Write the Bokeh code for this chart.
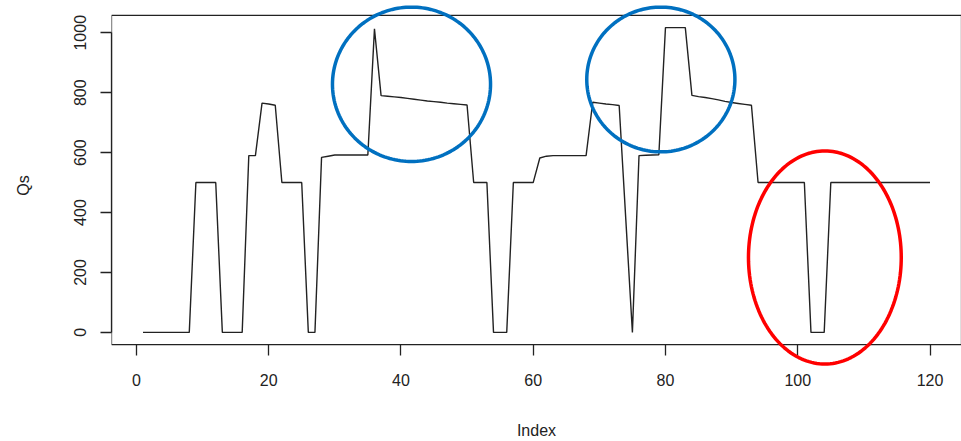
import numpy as np
from bokeh.plotting import figure
from bokeh.models import Range1d, FixedTicker, PolyAnnotation
from bokeh.embed import file_html
from bokeh.resources import INLINE

# Qs series, one value per index 1..120
index = list(range(1, 121))
qs = (
    [0] * 8
    + [500] * 4
    + [0] * 4
    + [590, 590, 765, 762, 758]
    + [500] * 4
    + [0] * 2
    + [584, 588, 592, 592, 592, 592, 592, 592]
    + [1013]
    + [790, 788, 786, 784, 781, 778, 775, 772, 770, 768, 765, 763, 761, 759]
    + [500] * 3
    + [0] * 3
    + [500] * 4
    + [582, 588, 590, 590, 590, 590, 590, 590]
    + [768, 765, 762, 760, 757]
    + [378, 0]
    + [590, 591, 592, 593]
    + [1017] * 4
    + [791, 787, 784, 780, 776, 771, 767, 764, 761, 758]
    + [500] * 8
    + [0] * 3
    + [500] * 16
)

x_ticks = [0, 20, 40, 60, 80, 100, 120]
y_ticks = [0, 200, 400, 600, 800, 1000]

# hand-drawn highlight rings: centre x, centre y, width, height (data units)
ring_cx = [41.6, 79.3, 104.1]
ring_cy = [828, 844, 250]
ring_w = [23.9, 22.4, 23.1]
ring_h = [515, 483, 711]
ring_color = ["#0070C0", "#0070C0", "#FF0000"]

# R-style 4% padding around the data range -> the plot box
xpad = 0.04 * (max(index) - min(index))
ypad = 0.04 * (max(qs) - min(qs))
box_x = (min(index) - xpad, max(index) + xpad)
box_y = (min(qs) - ypad, max(qs) + ypad)

# the drawing frame is a little taller than the box so the rings can
# spill over its top and bottom edges
BOX_PX = 330          # box height in pixels
TOP_EXTRA = 12        # frame above box, px
BOTTOM_EXTRA = 23     # frame below box, px
px_per_unit = BOX_PX / (box_y[1] - box_y[0])
frame_y = (box_y[0] - BOTTOM_EXTRA / px_per_unit, box_y[1] + TOP_EXTRA / px_per_unit)

FONT = "Liberation Sans"
FONT_SIZE = "16px"
INK = "#222222"
TICK_LEN = 11

p = figure(
    width=961, height=441,
    output_backend="svg", toolbar_location=None,
    x_range=Range1d(*box_x),
    y_range=Range1d(*frame_y),
    min_border_left=111, min_border_right=0,
    min_border_top=15 - TOP_EXTRA, min_border_bottom=96 - BOTTOM_EXTRA,
)
p.background_fill_color = "white"
p.border_fill_color = "white"
p.grid.visible = False
p.outline_line_color = None

# the plot box
p.add_layout(PolyAnnotation(
    xs=[box_x[0], box_x[1], box_x[1], box_x[0]],
    ys=[box_y[0], box_y[0], box_y[1], box_y[1]],
    fill_alpha=0, line_color=INK, line_alpha=1, line_width=1.3, level="underlay",
))

p.line(index, qs, line_color=INK, line_width=1.4)

for ax, ticks, lo, hi in ((p.xaxis[0], x_ticks, 0, 120), (p.yaxis[0], y_ticks, 0, 1000)):
    ax.ticker = FixedTicker(ticks=ticks)
    ax.bounds = (lo, hi)
    ax.minor_tick_line_color = None
    ax.major_tick_line_color = INK
    ax.major_tick_line_width = 1.3
    ax.axis_line_color = INK
    ax.axis_line_width = 1.3
    ax.major_label_text_font = FONT
    ax.major_label_text_font_size = FONT_SIZE
    ax.major_label_text_color = "#222222"
    ax.axis_label_text_font = FONT
    ax.axis_label_text_font_size = FONT_SIZE
    ax.axis_label_text_font_style = "normal"
    ax.axis_label_text_color = "#222222"

# y axis sits on the box edge
p.yaxis.major_tick_in = 0
p.yaxis.major_tick_out = TICK_LEN
p.yaxis.major_label_standoff = 14
p.yaxis.major_label_orientation = "vertical"
p.yaxis.axis_label = "Qs"
p.yaxis.axis_label_standoff = 40

# x axis: ticks start on the box bottom, which lies above the frame edge
p.xaxis.axis_line_color = None
p.xaxis.major_tick_in = BOTTOM_EXTRA
p.xaxis.major_tick_out = TICK_LEN - BOTTOM_EXTRA
p.xaxis.major_label_standoff = 6
p.xaxis.axis_label = "Index"
p.xaxis.axis_label_standoff = 33

t = np.linspace(0, 2 * np.pi, 181)
for cx, cy, w, h, c in zip(ring_cx, ring_cy, ring_w, ring_h, ring_color):
    p.add_layout(PolyAnnotation(
        xs=list(cx + 0.5 * w * np.cos(t)), ys=list(cy + 0.5 * h * np.sin(t)),
        fill_alpha=0, line_color=c, line_alpha=1, line_width=3.5, level="overlay",
    ))

open("out.html", "w").write(file_html(p, INLINE))
